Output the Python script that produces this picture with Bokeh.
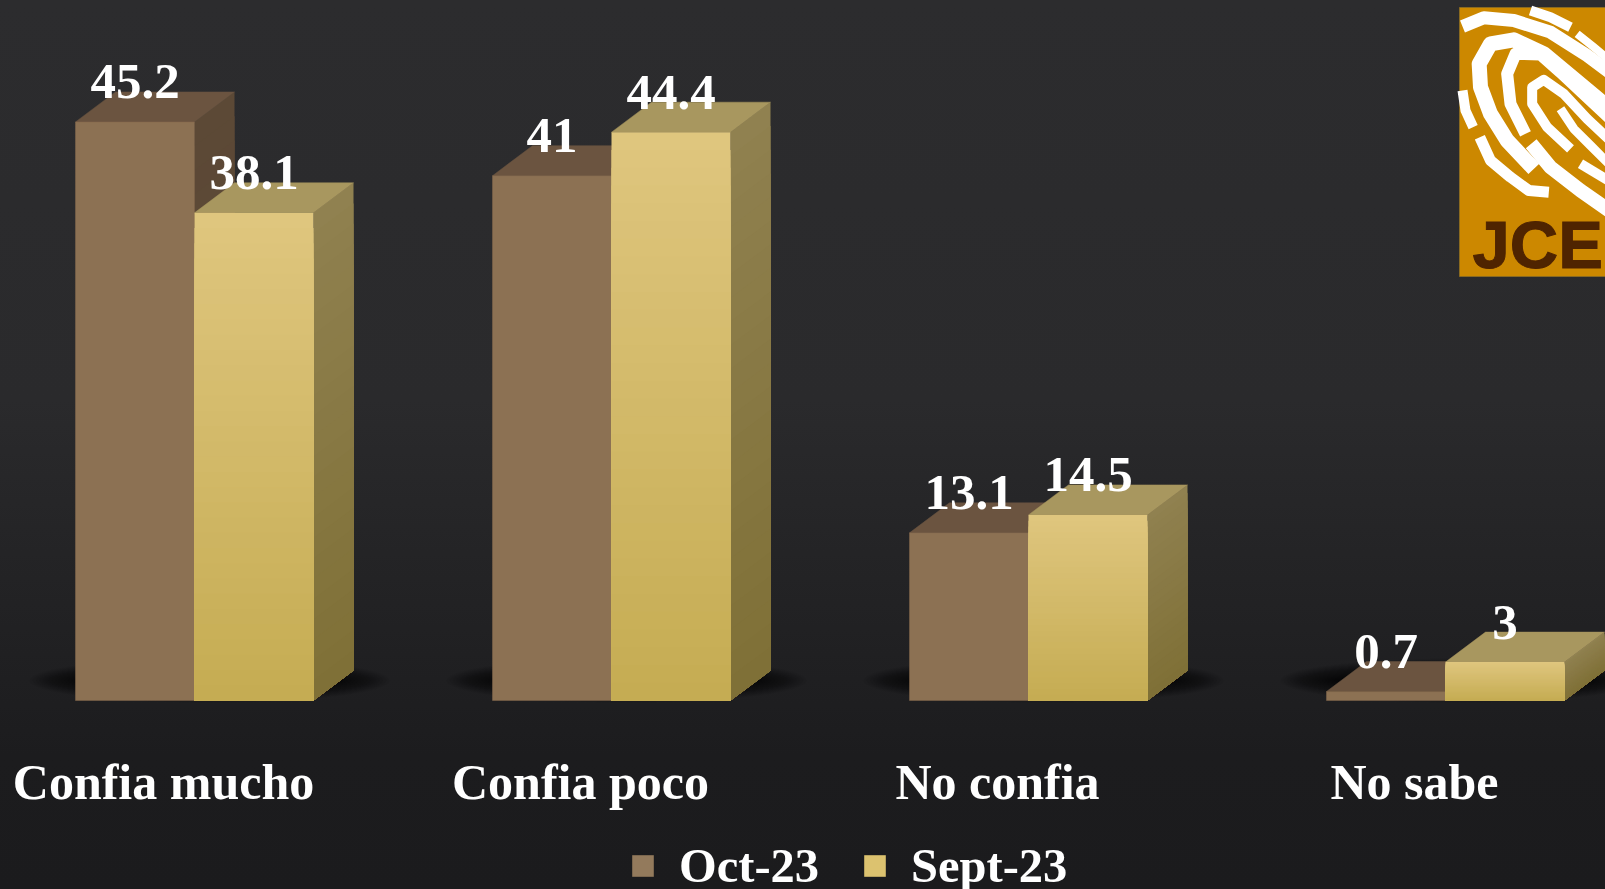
import numpy as np
from bokeh.core.properties import value
from bokeh.embed import file_html
from bokeh.layouts import column
from bokeh.models import FixedTicker, Legend, LegendItem, Range1d
from bokeh.plotting import figure
from bokeh.resources import INLINE

categories = ["Confia mucho", "Confia poco", "No confia", "No sabe"]
oct_23 = [45.2, 41, 13.1, 0.7]
sept_23 = [38.1, 44.4, 14.5, 3]
series_names = ["Oct-23", "Sept-23"]

W, H1, FH, H2 = 1605, 815, 745, 78
PX_X, PX_Y, BASE = 417.0, 12.8, 700.0
X0 = 163.0
BAR = 119.0 / PX_X
OFF = 31.0 / PX_X          # the labels sit left of the middle of each pair
DX, DY = 40.0 / PX_X, 30.0 / PX_Y
FONT = "Liberation Serif"
BROWN, GOLD = "#8c7153", "#dfc67e"


def dx(px):
    return (px - X0) / PX_X


def dy(px):
    return (BASE - px) / PX_Y


p = figure(width=W, height=H1, output_backend="svg", toolbar_location=None,
           x_range=Range1d(dx(0), dx(W)), y_range=Range1d(dy(FH), dy(0)),
           min_border=0, min_border_left=0, min_border_right=0, min_border_top=0,
           min_border_bottom=H1 - FH, y_axis_location=None)
p.background_fill_alpha = 0
p.border_fill_alpha = 0
p.outline_line_color = None
p.grid.visible = False

ax = p.xaxis[0]
ax.ticker = FixedTicker(ticks=list(range(len(categories))))
ax.major_label_overrides = {i: c for i, c in enumerate(categories)}
ax.axis_line_color = None
ax.major_tick_line_color = None
ax.minor_tick_line_color = None
ax.major_label_text_color = "#ffffff"
ax.major_label_text_font = FONT
ax.major_label_text_font_style = "bold"
ax.major_label_text_font_size = "50px"
ax.major_label_standoff = 2

idx = np.arange(len(categories), dtype=float)
oct_a, sep_a = np.array(oct_23, float), np.array(sept_23, float)

# Soft ground shadows behind each pair
for k in np.linspace(1, 0.25, 18):
    p.ellipse(x=idx + OFF + 15 / PX_X, y=[dy(680)] * len(idx),
              width=2 * (180 * (0.6 + 0.4 * k)) / PX_X, height=2 * (22 * k) / PX_Y,
              fill_color="#000000", fill_alpha=0.05, line_color=None)


def box(left, vals, top_c, side_top, side_bottom):
    right = left + BAR
    n = 24
    for j in range(n):
        f0 = j / n
        c = tuple((1 - f0) * a + f0 * b for a, b in zip(side_top, side_bottom))
        col = "#%02x%02x%02x" % tuple(int(v) for v in c)
        xs = [[r, r + DX, r + DX, r] for r in right]
        ys = [[v * (1 - f0), v * (1 - f0) + DY, DY, 0] for v in vals]
        p.patches(xs, ys, fill_color=col, line_color=None)
    xs = [[l, r, r + DX, l + DX] for l, r in zip(left, right)]
    ys = [[v, v, v + DY, v + DY] for v in vals]
    p.patches(xs, ys, fill_color=top_c, line_color=top_c, line_width=0.5)


brown_left = idx + OFF - BAR
gold_left = idx + OFF

box(brown_left, oct_a, "#6b5440", (0x5c, 0x49, 0x36), (0x5c, 0x49, 0x36))
p.vbar(x=brown_left + BAR / 2, top=oct_a, bottom=0, width=BAR,
       fill_color=BROWN, line_color="#84694c", line_width=0.5)
box(gold_left, sep_a, "#a8975f", (0x90, 0x81, 0x50), (0x7f, 0x70, 0x36))
p.vbar(x=gold_left + BAR / 2, top=sep_a, bottom=0, width=BAR, fill_color=GOLD, line_color=None)
# vertical shading of the gold fronts
n = 32
for j in range(1, n):
    g = j / n
    c = (int(0xdf + (0xc5 - 0xdf) * g), int(0xc6 + (0xac - 0xc6) * g), int(0x7e + (0x52 - 0x7e) * g))
    p.vbar(x=gold_left + BAR / 2, top=sep_a * (1 - g), bottom=0, width=BAR,
           fill_color="#%02x%02x%02x" % c, line_color=None)

label_kw = dict(text_color="#ffffff", text_font=value(FONT), text_font_style="bold",
                text_font_size="51px", text_align="center", text_baseline="alphabetic", y_offset=-40)
p.text(x=brown_left + BAR / 2, y=oct_a, text=[f"{v:g}" for v in oct_23], **label_kw)
p.text(x=gold_left + BAR / 2, y=sep_a, text=[f"{v:g}" for v in sept_23], **label_kw)

# JCE logo
p.quad(left=dx(1459), right=dx(1700), top=dy(7), bottom=dy(276), fill_color="#cc8800", line_color="#8a6a20", line_width=1)
ridges = [
    ([(186, 78), (250, 52), (340, 60), (450, 95), (560, 165), (640, 225)], 13),
    ([(640, 335), (520, 235), (430, 160), (340, 118), (270, 130), (236, 190), (240, 260), (270, 340), (320, 420), (400, 505)], 15),
    ([(375, 400), (330, 310), (320, 220), (345, 160), (420, 162), (480, 215), (560, 290), (640, 365)], 12),
    ([(510, 445), (440, 380), (395, 310), (395, 260), (430, 238), (490, 280), (560, 355), (640, 430)], 10),
    ([(480, 325), (520, 385), (570, 435), (640, 505)], 9),
    ([(186, 270), (195, 330), (218, 380)], 10),
    ([(238, 410), (270, 480), (330, 530), (385, 570), (445, 575)], 11),
    ([(392, 430), (450, 500), (540, 570), (640, 640)], 14),
    ([(390, 30), (450, 50), (510, 80)], 10),
    ([(530, 100), (580, 140), (640, 190)], 8),
    ([(540, 490), (640, 550)], 10),
]
for pts, w in ridges:
    p.line([dx(1400 + a / 3) for a, b in pts], [dy(b / 3) for a, b in pts],
           line_color="#ffffff", line_width=w, line_cap="butt", line_join="round")
p.text(x=[dx(1472)], y=[dy(263 - 19)], text=["JCE"], text_color="#4f2400", text_font=value("Liberation Sans"),
       text_font_style="bold", text_font_size="67px", text_baseline="alphabetic",
       text_outline_color="#4f2400")

# The legend strip under the plot: its keys sit outside the visible range
q = figure(width=W, height=H2, output_backend="svg", toolbar_location=None,
           x_range=Range1d(0, 1), y_range=Range1d(0, 1), min_border=0,
           min_border_left=0, min_border_right=0, min_border_top=0, min_border_bottom=0,
           x_axis_location=None, y_axis_location=None)
q.background_fill_alpha = 0
q.border_fill_alpha = 0
q.outline_line_color = None
q.grid.visible = False
r_oct = q.vbar(x=[-5], top=[-5], bottom=[-6], width=0.1, fill_color="#937a5c", line_color=None)
r_sep = q.vbar(x=[-5], top=[-5], bottom=[-6], width=0.1, fill_color="#dcc26f", line_color=None)
legend = Legend(items=[LegendItem(label=series_names[0], renderers=[r_oct]),
                       LegendItem(label=series_names[1], renderers=[r_sep])],
                orientation="horizontal", location=(629, 0),
                background_fill_alpha=0, border_line_color=None,
                label_text_color="#ffffff", label_text_font=FONT, label_text_font_style="bold",
                label_text_font_size="48.5px", glyph_width=27, glyph_height=27, label_standoff=23,
                spacing=42, margin=0, padding=0)
q.add_layout(legend)

page = column(p, q, spacing=0)
html = file_html(page, INLINE)
html = html.replace("</head>", "<style>html,body{margin:0;overflow:hidden;height:100%;"
                    "background:linear-gradient(#2c2c2e 0%,#2a2a2c 45%,#1c1c1e 85%,#1b1b1d 100%)}</style></head>", 1)
open("out.html", "w").write(html)
